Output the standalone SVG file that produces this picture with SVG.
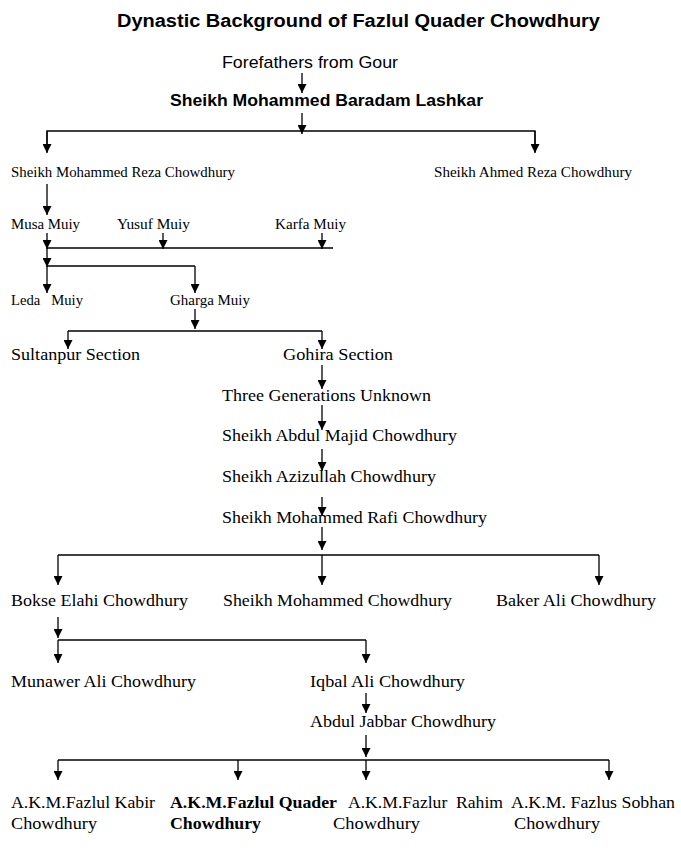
<svg xmlns="http://www.w3.org/2000/svg" width="681" height="850" viewBox="0 0 681 850">
<defs>
<marker id="ah" viewBox="0 0 10 10" refX="10" refY="5" markerWidth="9" markerHeight="9" markerUnits="userSpaceOnUse" orient="auto">
<path d="M0,0 L10,5 L0,10 Z" fill="#000"/>
</marker>
<style>
text{lengthAdjust:spacingAndGlyphs}
.s{font-family:"Liberation Sans",Arial,sans-serif;fill:#000}
.t{font-family:"Liberation Serif","Times New Roman",serif;fill:#000;font-size:17px}
.t13{font-family:"Liberation Serif","Times New Roman",serif;fill:#000;font-size:14px}
.b{font-weight:bold}
.l{stroke:#000;stroke-width:1.3;fill:none}
.a{stroke:#000;stroke-width:1.3;fill:none;marker-end:url(#ah)}
</style>
</defs>
<rect width="681" height="850" fill="#fff"/>
<text class="s b" x="117" y="27" font-size="18" textLength="483" lengthAdjust="spacingAndGlyphs">Dynastic Background of Fazlul Quader Chowdhury</text>
<g id="connectors">
<line class="a" x1="302" y1="73" x2="302" y2="93"/>
<line class="a" x1="302" y1="113" x2="302" y2="134"/>
<polyline class="l" points="47,152 47,131 535,131 535,152"/>
<line class="a" x1="47" y1="131" x2="47" y2="153"/>
<line class="a" x1="535" y1="131" x2="535" y2="153"/>
<line class="a" x1="47" y1="184" x2="47" y2="215"/>
<line class="a" x1="47" y1="233" x2="47" y2="249"/>
<line class="a" x1="163" y1="233" x2="163" y2="249"/>
<line class="a" x1="322" y1="233" x2="322" y2="249"/>
<line class="l" x1="47" y1="248" x2="333" y2="248"/>
<line class="a" x1="47" y1="248" x2="47" y2="267"/>
<polyline class="l" points="47,266 195,266"/>
<line class="a" x1="47" y1="266" x2="47" y2="293"/>
<line class="a" x1="195" y1="266" x2="195" y2="293"/>
<line class="a" x1="195" y1="309" x2="195" y2="329"/>
<line class="l" x1="68" y1="331" x2="322" y2="331"/>
<line class="a" x1="68" y1="331" x2="68" y2="349"/>
<line class="a" x1="322" y1="331" x2="322" y2="349"/>
<line class="a" x1="322" y1="365" x2="322" y2="389"/>
<line class="a" x1="322" y1="405" x2="322" y2="430"/>
<line class="a" x1="322" y1="449" x2="322" y2="471"/>
<line class="a" x1="322" y1="497" x2="322" y2="516"/>
<line class="a" x1="322" y1="527" x2="322" y2="550"/>
<polyline class="l" points="58,555 599,555"/>
<line class="a" x1="58" y1="555" x2="58" y2="585"/>
<line class="a" x1="322" y1="555" x2="322" y2="585"/>
<line class="a" x1="599" y1="555" x2="599" y2="585"/>
<line class="a" x1="58" y1="617" x2="58" y2="638"/>
<line class="l" x1="58" y1="640" x2="366" y2="640"/>
<line class="a" x1="58" y1="640" x2="58" y2="663"/>
<line class="a" x1="366" y1="640" x2="366" y2="663"/>
<line class="a" x1="366" y1="693" x2="366" y2="713"/>
<line class="a" x1="366" y1="735" x2="366" y2="757"/>
<line class="l" x1="58" y1="760" x2="609" y2="760"/>
<line class="a" x1="58" y1="760" x2="58" y2="780"/>
<line class="a" x1="238" y1="760" x2="238" y2="780"/>
<line class="a" x1="366" y1="760" x2="366" y2="780"/>
<line class="a" x1="609" y1="760" x2="609" y2="780"/>
</g>
<g id="n-forefathers"><text class="s" x="222" y="68" font-size="17" textLength="176" lengthAdjust="spacingAndGlyphs">Forefathers from Gour</text></g>
<g id="n-baradam"><text class="s b" x="170" y="106" font-size="17" textLength="313" lengthAdjust="spacingAndGlyphs">Sheikh Mohammed Baradam Lashkar</text></g>
<g id="n-reza"><text class="t13" x="11" y="177" textLength="224" lengthAdjust="spacingAndGlyphs">Sheikh Mohammed Reza Chowdhury</text></g>
<g id="n-ahmed"><text class="t13" x="434" y="177" textLength="198" lengthAdjust="spacingAndGlyphs">Sheikh Ahmed Reza Chowdhury</text></g>
<g id="n-musa"><text class="t13" x="11" y="229" textLength="69" lengthAdjust="spacingAndGlyphs">Musa Muiy</text></g>
<g id="n-yusuf"><text class="t13" x="117" y="229" textLength="73" lengthAdjust="spacingAndGlyphs">Yusuf Muiy</text></g>
<g id="n-karfa"><text class="t13" x="275" y="229" textLength="71" lengthAdjust="spacingAndGlyphs">Karfa Muiy</text></g>
<g id="n-leda"><text class="t13" x="11" y="305" xml:space="preserve" textLength="72" lengthAdjust="spacingAndGlyphs">Leda   Muiy</text></g>
<g id="n-gharga"><text class="t13" x="170" y="305" textLength="80" lengthAdjust="spacingAndGlyphs">Gharga Muiy</text></g>
<g id="n-sultanpur"><text class="t" x="11" y="360" textLength="129" lengthAdjust="spacingAndGlyphs">Sultanpur Section</text></g>
<g id="n-gohira"><text class="t" x="283" y="360" textLength="110" lengthAdjust="spacingAndGlyphs">Gohira Section</text></g>
<g id="n-three"><text class="t" x="222" y="401" textLength="209" lengthAdjust="spacingAndGlyphs">Three Generations Unknown</text></g>
<g id="n-majid"><text class="t" x="222" y="441" textLength="235" lengthAdjust="spacingAndGlyphs">Sheikh Abdul Majid Chowdhury</text></g>
<g id="n-azizullah"><text class="t" x="222" y="482" textLength="214" lengthAdjust="spacingAndGlyphs">Sheikh Azizullah Chowdhury</text></g>
<g id="n-rafi"><text class="t" x="222" y="523" textLength="265" lengthAdjust="spacingAndGlyphs">Sheikh Mohammed Rafi Chowdhury</text></g>
<g id="n-bokse"><text class="t" x="11" y="606" textLength="177" lengthAdjust="spacingAndGlyphs">Bokse Elahi Chowdhury</text></g>
<g id="n-smc"><text class="t" x="223" y="606" textLength="229" lengthAdjust="spacingAndGlyphs">Sheikh Mohammed Chowdhury</text></g>
<g id="n-baker"><text class="t" x="496" y="606" textLength="160" lengthAdjust="spacingAndGlyphs">Baker Ali Chowdhury</text></g>
<g id="n-munawer"><text class="t" x="11" y="687" textLength="185" lengthAdjust="spacingAndGlyphs">Munawer Ali Chowdhury</text></g>
<g id="n-iqbal"><text class="t" x="310" y="687" textLength="155" lengthAdjust="spacingAndGlyphs">Iqbal Ali Chowdhury</text></g>
<g id="n-jabbar"><text class="t" x="310" y="727" textLength="186" lengthAdjust="spacingAndGlyphs">Abdul Jabbar Chowdhury</text></g>
<g id="n-kabir"><text class="t" x="11" y="808" textLength="144" lengthAdjust="spacingAndGlyphs">A.K.M.Fazlul Kabir</text><text class="t" x="11" y="829" textLength="86" lengthAdjust="spacingAndGlyphs">Chowdhury</text></g>
<g id="n-quader"><text class="t b" x="170" y="808" textLength="167" lengthAdjust="spacingAndGlyphs">A.K.M.Fazlul Quader</text><text class="t b" x="170" y="829" textLength="91" lengthAdjust="spacingAndGlyphs">Chowdhury</text></g>
<g id="n-rahim"><text class="t" x="348" y="808" xml:space="preserve" textLength="155" lengthAdjust="spacingAndGlyphs">A.K.M.Fazlur  Rahim</text><text class="t" x="333" y="829" textLength="87" lengthAdjust="spacingAndGlyphs">Chowdhury</text></g>
<g id="n-sobhan"><text class="t" x="511" y="808" textLength="164" lengthAdjust="spacingAndGlyphs">A.K.M. Fazlus Sobhan</text><text class="t" x="514" y="829" textLength="86" lengthAdjust="spacingAndGlyphs">Chowdhury</text></g>
</svg>
